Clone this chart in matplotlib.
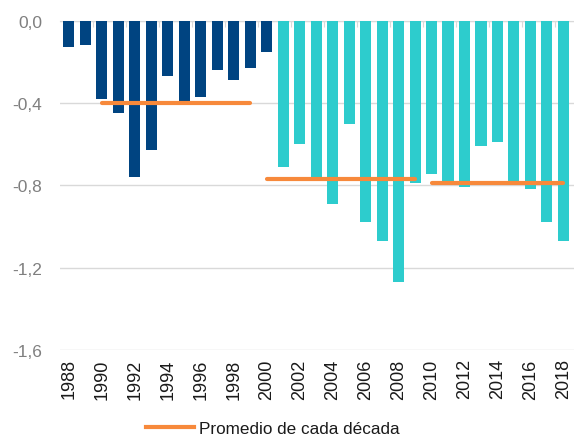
import numpy as np
import matplotlib
matplotlib.use("Agg")
import matplotlib.pyplot as plt

# ── Data ─────────────────────────────────────────────────────────────────────
years = list(range(1988, 2019))
values = [-0.13, -0.12, -0.38, -0.45, -0.76, -0.63, -0.27, -0.39, -0.37, -0.24,
          -0.29, -0.23, -0.15, -0.71, -0.60, -0.78, -0.89, -0.50, -0.98, -1.07,
          -1.27, -0.79, -0.745, -0.78, -0.81, -0.61, -0.59, -0.78, -0.82, -0.98,
          -1.07]
split_year = 2000          # bars up to this year in navy, rest in aqua
decade_start = [1990, 2000, 2010]
decade_end = [1999, 2009, 2018]
decade_mean = [-0.40, -0.77, -0.79]
yticks = [0.0, -0.4, -0.8, -1.2, -1.6]
legend_label = "Promedio de cada década"

NAVY, AQUA, ORANGE = "#004481", "#2DCCCD", "#F7893B"
GRID = "#D9D9D9"

plt.rcParams['font.family'] = ['Liberation Sans', 'DejaVu Sans']

fig = plt.figure(figsize=(5.74, 4.39), dpi=100)
ax = fig.add_axes([0.1045, 0.2005, 0.8955, 0.75])

x = np.arange(len(years))
colors = [NAVY if y <= split_year else AQUA for y in years]
ax.bar(x, values, width=0.67, color=colors, zorder=2)

for s, e, m in zip(decade_start, decade_end, decade_mean):
    ax.plot([years.index(s), years.index(e)], [m, m], color=ORANGE, lw=3,
            solid_capstyle="round", zorder=3)

ax.set_ylim(-1.6, 0)
ax.set_xlim(-0.53, len(years) - 1 + 0.64)
ax.set_yticks(yticks)
ax.set_yticklabels([f"{v:.1f}".replace(".", ",") for v in yticks])
ax.grid(axis="y", color=GRID, lw=1, zorder=0)
ax.set_axisbelow(True)

ax.set_xticks(x[::2])
ax.set_xticklabels([str(y) for y in years[::2]], rotation=90)
ax.tick_params(axis="x", length=0, pad=6, labelsize=13, labelcolor="#1A1A1A")
ax.tick_params(axis="y", length=0, pad=13, labelsize=12.5, labelcolor="#7F7F7F")
for sp in ax.spines.values():
    sp.set_visible(False)

# small category ticks on the zero line
top = ax.secondary_xaxis("top")
top.set_xticks(x[1:-1:2] + 0.5)
top.set_xticklabels([])
top.tick_params(direction="in", length=4, color=GRID)
top.spines["top"].set_color(GRID)

handle, = ax.plot([], [], color=ORANGE, lw=3)
fig.legend([handle], [legend_label], loc="center", bbox_to_anchor=(0.475, 0.022),
           frameon=False, fontsize=12.3, handlelength=2.8, handletextpad=0.3,
           labelcolor="#1A1A1A")

fig.savefig("out.png", dpi=100)
